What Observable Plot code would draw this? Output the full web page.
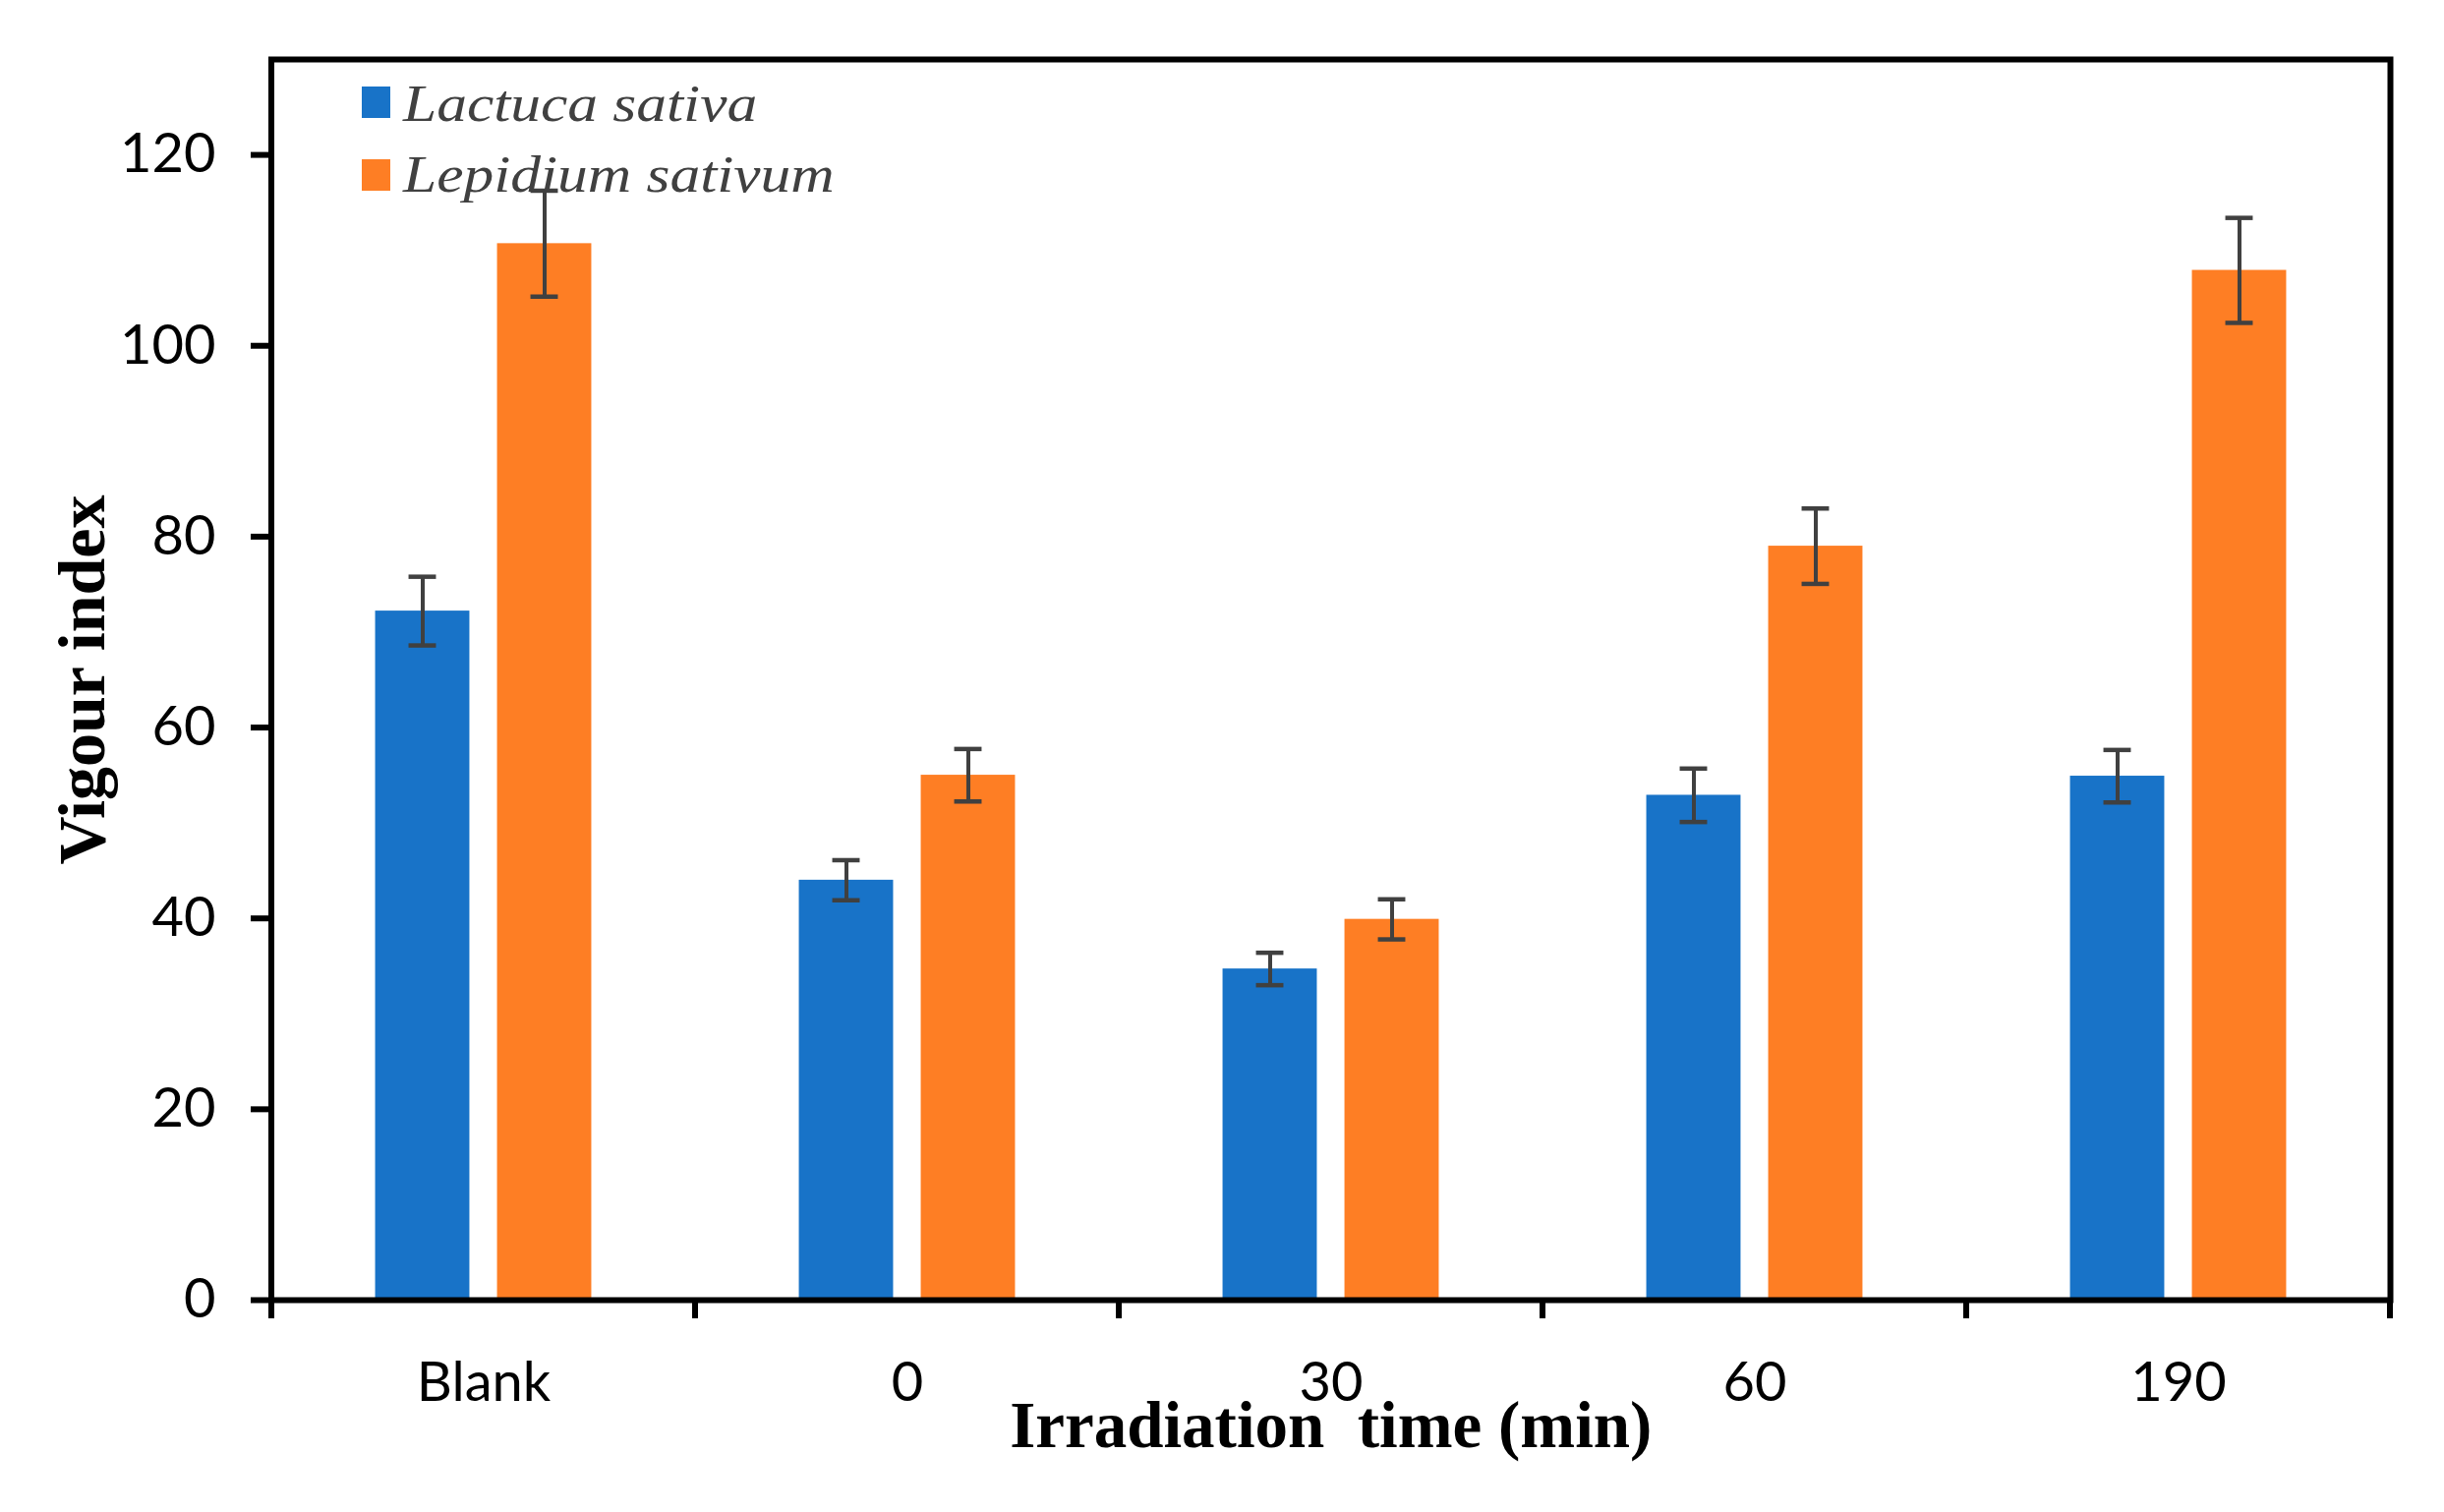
<!DOCTYPE html>
<html>
<head>
<meta charset="utf-8">
<script src="https://cdn.jsdelivr.net/npm/d3@7"></script>
<script src="https://cdn.jsdelivr.net/npm/@observablehq/plot@0.6"></script>
<style>
  html, body { margin: 0; padding: 0; background: #fff; }
  #chart { width: 2486px; height: 1538px; }
  #chart svg text { white-space: pre; }
</style>
</head>
<body>
<div id="chart"></div>
<script>
// ---- data ----
const categories = ["Blank", "0", "30", "60", "190"];
const species = ["Lactuca sativa", "Lepidium sativum"];
const colors = ["#1873C8", "#FE7E24"];
const lactuca = [72.2, 44.0, 34.7, 52.9, 54.9];
const lactucaErr = [3.6, 2.1, 1.7, 2.8, 2.75];
const lepidium = [110.7, 55.0, 39.9, 79.0, 107.9];
const lepidiumErr = [5.55, 2.75, 2.1, 3.95, 5.5];
const yTicks = [0, 20, 40, 60, 80, 100, 120];
const yDomain = [0, 130];
const xTitle = "Irradiation  time (min)";
const yTitle = "Vigour index";

const seriesValues = [lactuca, lepidium];
const seriesErrors = [lactucaErr, lepidiumErr];
const rows = species.flatMap((s, si) =>
  categories.map((c, ci) => ({time: c, species: s, value: seriesValues[si][ci], err: seriesErrors[si][ci]}))
);

// ---- layout ----
const W = 2486, H = 1538;
const mL = 275.5, mR = 55, mT = 60, mB = 216;
const bw = (W - mL - mR) / categories.length;
const barW = 96, gap = 28, capW = 28;
const off = [-(gap / 2 + barW / 2), gap / 2 + barW / 2];
const errColor = "#404040";
const axisW = 6;

const marks = [];
species.forEach((s, i) => {
  const d = rows.filter(r => r.species === s);
  marks.push(Plot.barY(d, {
    x: "time", y: "value", fill: colors[i],
    insetLeft: bw / 2 + off[i] - barW / 2,
    insetRight: bw / 2 - off[i] - barW / 2
  }));
});
species.forEach((s, i) => {
  const d = rows.filter(r => r.species === s);
  marks.push(Plot.ruleX(d, {
    x: "time", y1: r => r.value - r.err, y2: r => r.value + r.err,
    dx: off[i], stroke: errColor, strokeWidth: 4
  }));
  for (const sign of [1, -1]) {
    marks.push(Plot.tickY(d, {
      x: "time", y: r => r.value + sign * r.err,
      insetLeft: bw / 2 + off[i] - capW / 2,
      insetRight: bw / 2 - off[i] - capW / 2,
      stroke: errColor, strokeWidth: 4.5
    }));
  }
});

marks.push(Plot.frame({stroke: "#000", strokeWidth: axisW}));
marks.push(Plot.axisY({ticks: yTicks, tickSize: 20.5, tickPadding: 36, strokeWidth: axisW, label: null, fill: "#000"}));
marks.push(Plot.axisX({tickSize: 0, tickPadding: 63, label: null, fill: "#000"}));

// tick marks at category boundaries below the x axis
marks.push((index, scales, values, dims) => {
  const x = scales.x;
  const bwS = typeof x.bandwidth === "function" ? x.bandwidth() : bw;
  const yb = dims.height - dims.marginBottom;
  const edges = categories.map(c => x(c)).concat([x(categories[categories.length - 1]) + bwS]);
  const g = d3.create("svg:g");
  g.selectAll("line").data(edges).join("line")
    .attr("x1", d => d).attr("x2", d => d)
    .attr("y1", yb).attr("y2", yb + 19)
    .attr("stroke", "#000").attr("stroke-width", axisW);
  return g.node();
});

marks.push(Plot.text([xTitle], {
  text: d => d, frameAnchor: "bottom", lineAnchor: "bottom", textAnchor: "middle", dy: 149,
  fontFamily: "Liberation Serif", fontWeight: "bold", fontSize: 67, fill: "#000"
}));
marks.push(Plot.text([yTitle], {
  text: d => d, frameAnchor: "left", rotate: -90, lineAnchor: "bottom", textAnchor: "middle", dx: -170.5,
  fontFamily: "Liberation Serif", fontWeight: "bold", fontSize: 68, fill: "#000"
}));

const chart = Plot.plot({
  width: W, height: H,
  marginLeft: mL, marginRight: mR, marginTop: mT, marginBottom: mB,
  style: {fontFamily: "Lato, sans-serif", fontSize: "56px", color: "#000", background: "#fff", overflow: "visible"},
  x: {type: "band", domain: categories, paddingInner: 0, paddingOuter: 0, axis: null},
  y: {domain: yDomain, axis: null},
  marks
});

const svg = d3.select(chart);
// make sure the y tick marks are as heavy as the frame
svg.selectAll('[aria-label="y-axis tick"]').attr("stroke-width", axisW);
svg.selectAll('[aria-label="y-axis tick"] path').attr("stroke-width", axisW);

// legend inside the plot (top-left)
const leg = svg.append("g").attr("text-anchor", "start");
const legRowsY = [88, 162];
const legBase = [123, 195];
species.forEach((s, i) => {
  leg.append("rect").attr("x", 368).attr("y", legRowsY[i]).attr("width", 29).attr("height", 32).attr("fill", colors[i]);
  leg.append("text")
    .attr("transform", `translate(410,${legBase[i]}) scale(1.16,1)`)
    .attr("text-anchor", "start")
    .attr("font-family", "Liberation Serif").attr("font-style", "italic").attr("font-size", 53)
    .attr("fill", "#404040").text(s);
});

document.getElementById("chart").appendChild(chart);
</script>
</body>
</html>
